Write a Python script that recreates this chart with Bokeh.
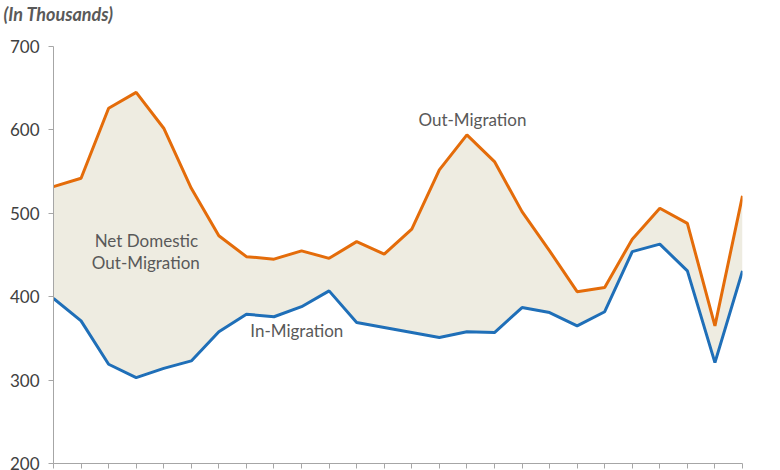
from bokeh.plotting import figure
from bokeh.models import ColumnDataSource, FixedTicker, Range1d
from bokeh.embed import file_html
from bokeh.resources import INLINE
from bokeh.core.properties import value

# Period index (x axis has tick marks only, no labels)
period = [0, 1, 2, 3, 4, 5, 6, 7, 8, 9, 10, 11, 12, 13, 14, 15, 16, 17, 18, 19, 20, 21, 22, 23, 24, 25]
out_migration = [532, 542, 626, 645, 602, 530, 473, 448, 445, 455, 446, 466, 451, 481,
                 552, 594, 562, 502, 455, 406, 411, 469, 506, 488, 365, 521]
in_migration = [398, 371, 319, 303, 314, 323, 358, 379, 376, 388, 407, 369, 363, 357,
                351, 358, 357, 387, 381, 365, 382, 454, 463, 431, 321, 431]
y_ticks = [200, 300, 400, 500, 600, 700]

labels_text = ["Net Domestic", "Out-Migration", "Out-Migration", "In-Migration"]
labels_x = [3.37, 3.35, 15.2, 8.83]
labels_y = [467, 441, 612.5, 359.5]

src = ColumnDataSource(dict(x=period, out=out_migration, inn=in_migration))
lab = ColumnDataSource(dict(x=labels_x, y=labels_y, t=labels_text))

p = figure(output_backend="svg", toolbar_location=None,
           frame_width=689, frame_height=417,
           min_border_left=53, min_border_top=46, min_border_right=20, min_border_bottom=7,
           x_range=Range1d(0, 25), y_range=Range1d(200, 700),
           title="(In Thousands)\n ")

p.title.text_font = "Lato"
p.title.text_font_size = "18px"
p.title.text_font_style = "bold italic"
p.title.text_color = "#595959"
p.title.align = "left"
p.title.offset = -50
p.title.standoff = 0

p.background_fill_color = "white"
p.border_fill_color = "white"
p.outline_line_color = None
p.grid.grid_line_color = None

p.varea(x="x", y1="inn", y2="out", source=src, fill_color="#EEECE1")
p.line(x="x", y="out", source=src, line_color="#E46C0A", line_width=3)
p.line(x="x", y="inn", source=src, line_color="#1F6FB8", line_width=3)

p.text(x="x", y="y", text="t", source=lab, text_font=value("Lato"),
       text_font_size="17px", text_color="#595959",
       text_align="center", text_baseline="middle")

# axes
p.yaxis.ticker = FixedTicker(ticks=y_ticks)
p.yaxis.axis_line_color = "#A6A6A6"
p.yaxis.major_tick_line_color = "#A6A6A6"
p.yaxis.minor_tick_line_color = None
p.yaxis.major_tick_in = 0
p.yaxis.major_tick_out = 5
p.yaxis.major_label_standoff = 9
p.yaxis.major_label_text_font = "Lato"
p.yaxis.major_label_text_font_size = "17px"
p.yaxis.major_label_text_color = "#404040"

p.xaxis.ticker = FixedTicker(ticks=period)
p.xaxis.axis_line_color = "#A6A6A6"
p.xaxis.major_tick_line_color = "#A6A6A6"
p.xaxis.minor_tick_line_color = None
p.xaxis.major_tick_in = 0
p.xaxis.major_tick_out = 5
p.xaxis.major_label_text_font_size = "0px"
p.xaxis.major_label_standoff = 0

open("out.html", "w").write(file_html(p, INLINE))
